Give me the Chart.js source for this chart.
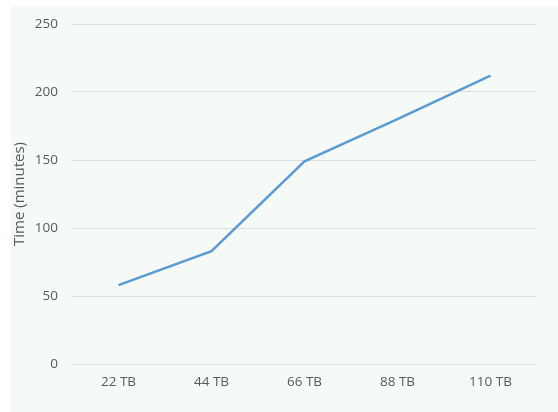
<!DOCTYPE html>
<html>
<head>
<meta charset="utf-8">
<script src="https://cdn.jsdelivr.net/npm/chart.js@4"></script>
<style>
  body { margin: 0; background: #fff; }
  #panel { position: absolute; left: 11px; top: 6px; width: 547px; height: 406px; background: #f6faf7; }
</style>
</head>
<body>
<div id="panel"><canvas id="timeChart" width="547" height="406"></canvas></div>
<script>
const sizes = ['22 TB', '44 TB', '66 TB', '88 TB', '110 TB'];
const minutes = [58, 83, 149, 180, 212];

const ctx = document.getElementById('timeChart');
new Chart(ctx, {
    type: 'line',
    data: {
        labels: sizes,
        datasets: [{
            label: 'Time',
            data: minutes,
            borderColor: '#5b9bd5',
            borderWidth: 2.5,
            pointRadius: 0,
            tension: 0,
            fill: false
        }]
    },
    options: {
        responsive: false,
        animation: false,
        layout: { padding: { top: 18, right: 21, bottom: 0, left: 0 } },
        plugins: { legend: { display: false }, tooltip: { enabled: false } },
        scales: {
            x: {
                offset: true,
                grid: { display: false, drawTicks: false },
                border: { display: false },
                ticks: { color: '#595959', font: { family: 'Open Sans', size: 13.5 }, padding: 10 },
                afterFit: (s) => { s.height = 48; s.paddingLeft = 0; s.paddingRight = 0; }
            },
            y: {
                min: 0,
                max: 250,
                ticks: { stepSize: 50, color: '#595959', font: { family: 'Open Sans', size: 13.5 }, padding: 14 },
                grid: { color: '#dedede', drawTicks: false },
                border: { display: false },
                title: { display: true, text: 'Time (minutes)', color: '#595959', font: { family: 'Open Sans', size: 15 }, padding: 0 },
                afterFit: (s) => { s.width = 61; s.paddingTop = 0; s.paddingBottom = 0; }
            }
        }
    }
});
</script>
</body>
</html>
